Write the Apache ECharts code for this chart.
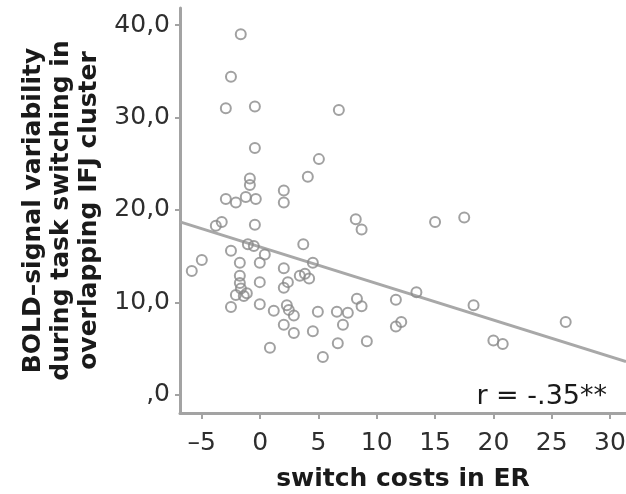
<!DOCTYPE html>
<html>
<head>
<meta charset="utf-8">
<script src="https://cdn.jsdelivr.net/npm/echarts@6/dist/echarts.min.js"></script>
<style>
  html, body { margin: 0; padding: 0; background: #fff; }
  #chart { width: 626px; height: 494px; }
</style>
</head>
<body>
<div id="chart"></div>
<script>
// Switch costs in error rate (x) against BOLD-signal variability (y), one point per participant
const switchCosts = [
  -1.66, -2.5, -2.94, -0.45, 6.75, -0.45, 5.04, 4.09, -0.88, -0.88,
  -2.94, -2.08, -1.23, -0.37, 2.03, 2.03, -3.29, -3.8, -0.45, 8.2,
  8.7, 15.0, 17.5, 3.7, -1.05, -0.54, -2.5, 0.4, -0.03, -5.0,
  -5.86, -1.74, 2.03, 4.52, 3.4, 3.84, 4.2, -1.74, -1.74, -1.65,
  -2.08, -1.4, -1.14, -2.5, -0.03, 2.38, 2.03, -0.03, 1.17, 2.29,
  2.46, 2.89, 4.95, 6.58, 7.52, 2.03, 2.89, 4.52, 7.1, 0.84,
  5.38, 6.66, 9.15, 8.3, 8.7, 11.64, 13.4, 12.1, 11.64, 18.3,
  20.0, 20.8, 26.2
];
const boldVariability = [
  39.0, 34.4, 31.0, 31.2, 30.8, 26.7, 25.5, 23.6, 23.4, 22.7,
  21.2, 20.8, 21.4, 21.2, 22.1, 20.8, 18.7, 18.3, 18.4, 19.0,
  17.9, 18.7, 19.2, 16.3, 16.3, 16.1, 15.6, 15.2, 14.3, 14.6,
  13.4, 14.3, 13.7, 14.3, 12.9, 13.1, 12.6, 12.9, 12.1, 11.5,
  10.8, 10.7, 11.0, 9.5, 12.2, 12.2, 11.6, 9.8, 9.1, 9.7,
  9.2, 8.6, 9.0, 9.0, 8.9, 7.6, 6.7, 6.9, 7.6, 5.1,
  4.1, 5.6, 5.8, 10.4, 9.6, 10.3, 11.1, 7.9, 7.4, 9.7,
  5.9, 5.5, 7.9
];

// Linear fit line and the correlation label
const fitIntercept = 16.0;
const fitSlope = -0.395;
const correlationText = 'r = -.35**';

// Axis ranges and tick values
const xRange = [-6.87, 31.37];
const yRange = [-1.95, 41.84];
const xTicks = [-5, 0, 5, 10, 15, 20, 25, 30];
const yTicks = [0, 10, 20, 30, 40];

const xTitle = 'switch costs in ER';
const yTitle = 'BOLD–signal variability\nduring task switching in\noverlapping IFJ cluster';

const points = switchCosts.map((x, i) => [x, boldVariability[i]]);
const fitLine = xRange.map(x => [x, fitIntercept + fitSlope * x]);

const font = '"DejaVu Sans", Verdana, sans-serif';
const axisGray = '#a3a3a3';

const chart = echarts.init(document.getElementById('chart'));
chart.setOption({
  animation: false,
  grid: { left: 180, right: 0, top: 8, bottom: 81, containLabel: false, outerBoundsMode: 'none' },
  xAxis: {
    type: 'value',
    min: xRange[0],
    max: xRange[1],
    splitLine: { show: false },
    axisLine: { show: true, onZero: false, lineStyle: { color: axisGray, width: 3 } },
    axisTick: { show: true, length: 6, customValues: xTicks, lineStyle: { color: axisGray, width: 2 } },
    axisLabel: {
      customValues: xTicks,
      margin: 18,
      fontFamily: font,
      fontSize: 25,
      color: '#2e2e2e',
      formatter: v => (v < 0 ? '–' + Math.abs(v) : String(v))
    },
    name: xTitle,
    nameLocation: 'middle',
    nameGap: 54,
    nameTextStyle: { fontFamily: font, fontSize: 25, fontWeight: 'bold', color: '#1a1a1a' }
  },
  yAxis: {
    type: 'value',
    min: yRange[0],
    max: yRange[1],
    splitLine: { show: false },
    axisLine: { show: true, onZero: false, lineStyle: { color: axisGray, width: 3 } },
    axisTick: { show: true, length: 5, customValues: yTicks, lineStyle: { color: axisGray, width: 2 } },
    axisLabel: {
      customValues: yTicks,
      margin: 10,
      fontFamily: font,
      fontSize: 25,
      color: '#2e2e2e',
      formatter: v => (v === 0 ? ',0' : v.toFixed(1).replace('.', ','))
    },
    name: yTitle,
    nameLocation: 'middle',
    nameGap: 75,
    nameRotate: 90,
    nameTextStyle: { fontFamily: font, fontSize: 25, fontWeight: 'bold', color: '#1a1a1a', lineHeight: 28, align: 'center' }
  },
  series: [
    {
      type: 'line',
      data: fitLine,
      symbol: 'none',
      lineStyle: { color: '#a8a8a8', width: 3 },
      z: 1
    },
    {
      type: 'scatter',
      data: points,
      symbol: 'circle',
      symbolSize: 10,
      itemStyle: { color: 'rgba(255,255,255,0)', borderColor: '#8a8a8a', borderWidth: 2 },
      z: 2
    }
  ],
  graphic: [
    {
      type: 'text',
      right: 19,
      top: 383,
      style: { text: correlationText, fontFamily: font, fontSize: 27, fill: '#1a1a1a' }
    }
  ]
});
</script>
</body>
</html>
